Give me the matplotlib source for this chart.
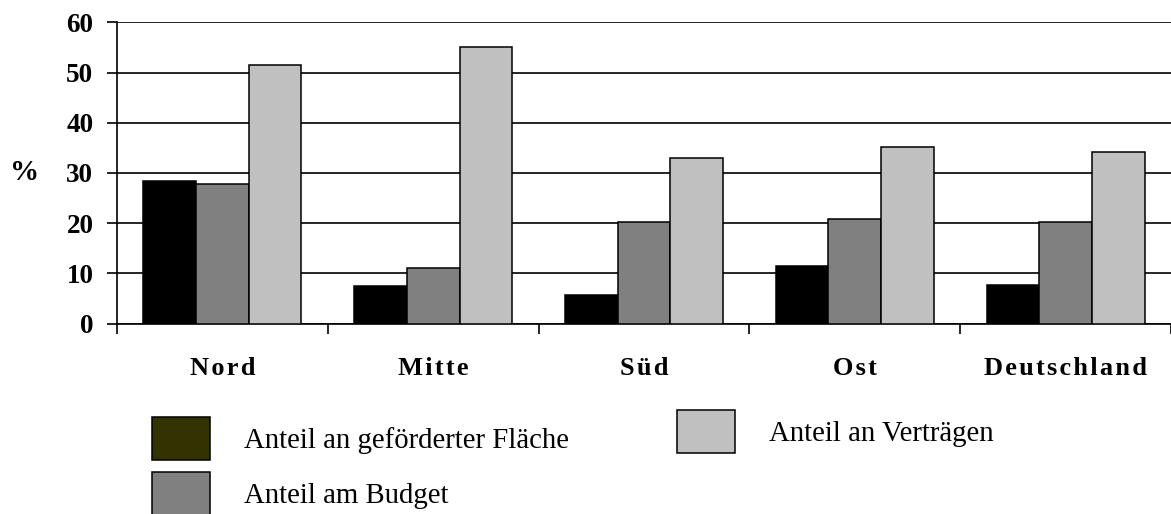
import numpy as np
import matplotlib
matplotlib.use('Agg')
import matplotlib.pyplot as plt
from matplotlib.patches import Patch

# Regions and series values (percent)
regions = ['Nord', 'Mitte', 'Süd', 'Ost', 'Deutschland']
series_labels = ['Anteil an geförderter Fläche', 'Anteil am Budget', 'Anteil an Verträgen']
flaeche = [28.5, 7.6, 5.7, 11.4, 7.8]
budget = [27.8, 11.0, 20.2, 20.9, 20.2]
vertraege = [51.5, 55.1, 33.0, 35.2, 34.1]
y_ticks = [0, 10, 20, 30, 40, 50, 60]

bar_colors = ['#000000', '#808080', '#c0c0c0']
legend_colors = ['#333300', '#808080', '#c0c0c0']

plt.rcParams['font.family'] = 'Liberation Serif'

fig = plt.figure(figsize=(11.71, 5.14), dpi=100)
ax = fig.add_axes([117 / 1171, 190.3 / 514, 1054 / 1171, 301.4 / 514])

x = np.arange(len(regions))
width = 0.25
for i, (vals, col) in enumerate(zip([flaeche, budget, vertraege], bar_colors)):
    ax.bar(x + (i - 1) * width, vals, width, color=col, edgecolor='black',
           linewidth=1.1, zorder=3)

ax.set_xlim(-0.5, len(regions) - 0.5)
ax.set_ylim(0, 60)
ax.set_yticks(y_ticks)
ax.set_yticklabels([str(t) for t in y_ticks], fontsize=19.5, fontweight='bold')
ax.yaxis.grid(True, color='black', linewidth=1.2, zorder=0)
ax.set_axisbelow(True)

# spaced-out region names
spaced = ['\u200a'.join(r) for r in regions]
ax.set_xticks(x)
ax.set_xticklabels(spaced, fontsize=19, fontweight='bold')
ax.set_xticks(np.arange(len(regions) + 1) - 0.5, minor=True)
ax.tick_params(axis='x', which='major', length=0, pad=24)
ax.tick_params(axis='x', which='minor', length=7, width=1.2, direction='out')
ax.tick_params(axis='y', length=7, width=1.2, direction='out', pad=10)

for s in ['top', 'right']:
    ax.spines[s].set_visible(False)
for s in ['left', 'bottom']:
    ax.spines[s].set_linewidth(1.2)

ax.text(-0.0873, 0.5, '%', transform=ax.transAxes, fontsize=21, fontweight='bold',
        ha='center', va='center')

handles = [Patch(facecolor=c, edgecolor='black', linewidth=1.1) for c in legend_colors]
leg_kw = dict(frameon=False, fontsize=20.7, handlelength=2.0, handleheight=1.91,
              handletextpad=1.21, labelspacing=0.43, borderpad=0, borderaxespad=0,
              loc='upper left', bbox_transform=fig.transFigure)
leg1 = fig.legend(handles[:2], series_labels[:2],
                  bbox_to_anchor=(152 / 1171, 1 - 417 / 514), **leg_kw)
leg2 = fig.legend(handles[2:], series_labels[2:],
                  bbox_to_anchor=(677 / 1171, 1 - 410 / 514), **leg_kw)

fig.savefig('out.png', dpi=100)
